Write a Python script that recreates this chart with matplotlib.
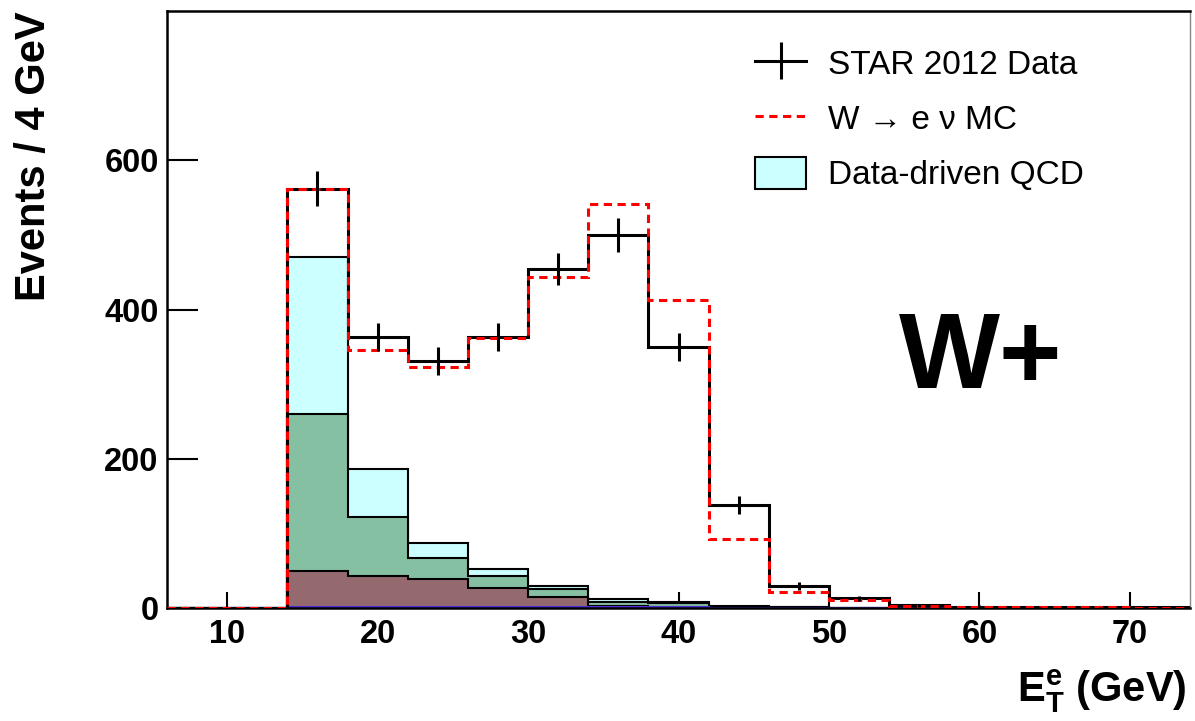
import numpy as np
import matplotlib
matplotlib.use("Agg")
import matplotlib.pyplot as plt
from matplotlib.patches import Patch
from matplotlib.lines import Line2D
from matplotlib.container import ErrorbarContainer
from matplotlib.legend_handler import HandlerErrorbar

plt.rcParams['font.family'] = ['Liberation Sans', 'DejaVu Sans']
plt.rcParams['mathtext.fontset'] = 'custom'
plt.rcParams['mathtext.rm'] = 'Liberation Sans'
plt.rcParams['mathtext.bf'] = 'Liberation Sans:bold'

# binning: 4 GeV bins from 6 to 74 GeV
edges = np.arange(6, 78, 4)
centers = edges[:-1] + 2

# STAR 2012 data (events / bin) and stat. errors
data = [0, 0, 562, 363, 331, 363, 454, 500, 350, 138, 30, 13, 4, 2, 1, 1, 1]
data_err = [0, 0, 23.7, 19.1, 18.2, 19.1, 21.3, 22.4, 18.7, 11.7, 5.5, 3.6, 2.0, 1.4, 1.0, 1.0, 1.0]

# W -> e nu MC (dashed red)
mc = [0, 0, 562, 346, 323, 362, 444, 541, 413, 92, 22, 11, 3, 1.5, 1, 1, 0.5]

# background components (stacked, bottom to top)
bkg_blue = [0, 0, 1.5, 1.5, 1.5, 1.5, 1, 1, 1, 0.5, 0, 0, 0, 0, 0, 0, 0]
bkg_brown = [0, 0, 48.5, 41.5, 37.5, 25.5, 14, 2, 1, 1, 0.5, 0, 0, 0, 0, 0, 0]
bkg_green = [0, 0, 210, 79, 28, 16, 10, 5.5, 4.5, 0.5, 0.5, 0, 0, 0, 0, 0, 0]
qcd = [0, 0, 210, 64, 20, 9, 4.5, 3, 1.5, 0.5, 0, 0, 0, 0, 0, 0, 0]

fig = plt.figure(figsize=(11.95, 7.21), dpi=100)
ax = fig.add_axes([167/1195, 1-608/721, (1190-167)/1195, (608-11)/721])

# cumulative stack, drawn from the top level down (ROOT style)
layers = [bkg_blue, bkg_brown, bkg_green, qcd]
colors = ['#4a2fd8', '#956a6e', '#86c0a2', '#ccffff']
cum = np.cumsum(np.array(layers, dtype=float), axis=0)
for i in range(len(layers) - 1, -1, -1):
    ec = 'k' if i > 0 else colors[0]
    ax.stairs(cum[i], edges, baseline=0, fill=True, facecolor=colors[i],
              edgecolor=ec, lw=1.5, zorder=2 + (3 - i) * 0.1)

ax.stairs(data, edges, baseline=None, color='k', lw=2.2, zorder=3)
ax.stairs(mc, edges, baseline=None, color='#ff0000', lw=2.2,
          linestyle=(0, (2.7, 1.8)), zorder=4)
mask = np.array(data) > 0
ax.errorbar(centers[mask], np.array(data)[mask], yerr=np.array(data_err)[mask],
            fmt='none', ecolor='k', elinewidth=2.2, capsize=0, zorder=5)

ax.set_xlim(6, 74)
ax.set_ylim(0, 800)
ax.set_xticks([10, 20, 30, 40, 50, 60, 70])
ax.set_yticks([0, 200, 400, 600])
ax.tick_params(axis='both', direction='in', width=1.5, labelsize=23.5, top=False, right=False)
ax.tick_params(axis='x', length=11.5, pad=8)
ax.tick_params(axis='y', length=22, pad=6)
for lab in ax.get_xticklabels() + ax.get_yticklabels():
    lab.set_fontweight('bold')
for s in ['left', 'top', 'bottom']:
    ax.spines[s].set_linewidth(1.8)
ax.spines['right'].set_linewidth(1.0)
ax.spines['right'].set_color('#888888')

ax.set_ylabel('Events / 4 GeV', fontsize=30, fontweight='bold', loc='top')
ax.yaxis.set_label_coords(-0.11, 1.0)
ax.set_xlabel(r'$\mathbf{E_{T}^{e}}$ (GeV)', fontsize=30, fontweight='bold', loc='right')
ax.xaxis.set_label_coords(0.997, -0.1)

ax.text(0.795, 0.415, 'W+', transform=ax.transAxes, fontsize=77, fontweight='bold',
        ha='center', va='center')

# legend
h_data = ax.errorbar([np.nan], [np.nan], yerr=[1.0], fmt='-', color='k', lw=2.2,
                     elinewidth=2.2, capsize=0)
h_mc = Line2D([], [], color='#ff0000', lw=2.2, linestyle=(0, (2.7, 1.8)))
h_qcd = Patch(facecolor='#ccffff', edgecolor='k', lw=1.5)
ax.legend([h_data, h_mc, h_qcd], ['STAR 2012 Data', 'W \u2192 e \u03bd MC', 'Data-driven QCD'],
          loc='upper left', bbox_to_anchor=(755/1195, 1-47/721), bbox_transform=fig.transFigure,
          frameon=False, fontsize=24, handlelength=1.53, handletextpad=0.66,
          borderpad=0, borderaxespad=0, labelspacing=0.62, handleheight=1.1,
          handler_map={ErrorbarContainer: HandlerErrorbar(yerr_size=0.55)})

fig.savefig('out.png', dpi=100)
